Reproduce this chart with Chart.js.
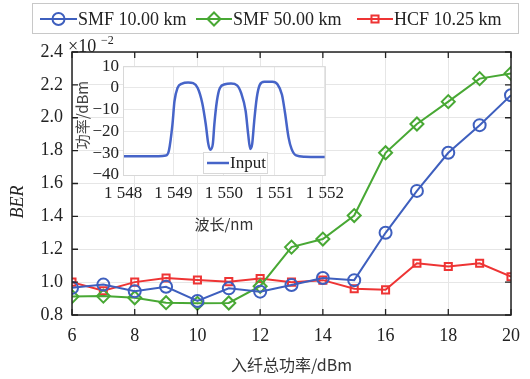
<!DOCTYPE html>
<html>
<head>
<meta charset="utf-8">
<script src="https://cdn.jsdelivr.net/npm/chart.js@4"></script>
<style>
  body { margin: 0; background: #fff; }
  #wrap { position: relative; width: 530px; height: 379px; }
  #main { position: absolute; left: 0; top: 0; }
  #inset { position: absolute; left: 72px; top: 52px; }
</style>
</head>
<body>
<div id="wrap">
  <canvas id="main" width="530" height="379"></canvas>
  <canvas id="inset" width="280" height="185"></canvas>
</div>
<script>
// main chart data (BER x 10^-2)
const power = [6, 7, 8, 9, 10, 11, 12, 13, 14, 15, 16, 17, 18, 19, 20];
const smf10 = [0.965, 0.985, 0.945, 0.972, 0.885, 0.962, 0.942, 0.982, 1.025, 1.012, 1.30, 1.555, 1.787, 1.955, 2.137];
const smf50 = [0.912, 0.915, 0.905, 0.875, 0.871, 0.873, 0.975, 1.213, 1.262, 1.405, 1.787, 1.962, 2.098, 2.238, 2.27];
const hcf = [1.0, 0.948, 1.0, 1.025, 1.013, 1.003, 1.022, 1.0, 1.012, 0.96, 0.953, 1.115, 1.095, 1.115, 1.033];
const yTicks = [0.8, 1.0, 1.2, 1.4, 1.6, 1.8, 2.0, 2.2, 2.4];
const xTicks = [6, 8, 10, 12, 14, 16, 18, 20];

// inset spectrum (wavelength nm, power dBm)
const wavelength = [1548.0, 1548.5, 1548.85, 1548.91, 1548.98, 1549.02, 1549.08, 1549.17, 1549.29, 1549.39, 1549.48, 1549.57, 1549.64, 1549.69, 1549.73, 1549.78, 1549.81, 1549.86, 1549.92, 1550.02, 1550.14, 1550.26, 1550.34, 1550.43, 1550.48, 1550.52, 1550.56, 1550.60, 1550.65, 1550.71, 1550.80, 1550.96, 1551.06, 1551.15, 1551.21, 1551.28, 1551.34, 1551.43, 1551.6, 1552.0];
const inputDbm = [-31.4, -31.4, -31.0, -28.7, -16.7, -6.1, 0.0, 2.0, 2.5, 2.2, 0.0, -6.9, -16.7, -25.7, -28.4, -25.7, -16.7, -6.1, 0.0, 1.7, 2.0, 1.2, -2.3, -10.6, -21.2, -28.0, -25.7, -15.2, -4.6, 1.4, 2.8, 2.8, 1.7, -3.1, -11.4, -22.7, -28.0, -31.0, -31.6, -31.7];
const insetXTicks = [1548, 1549, 1550, 1551, 1552];
const insetYTicks = [-40, -30, -20, -10, 0, 10];

const blue = 'rgb(62,95,190)';
const green = 'rgb(72,168,52)';
const red = 'rgb(238,52,52)';
const serif = '"Liberation Serif", "DejaVu Serif", serif';
const cjk = '"Noto Sans CJK SC", sans-serif';

function ds(label, data, color, style, r) {
    return {
        label: label,
        data: data.map((v, i) => ({ x: power[i], y: v })),
        borderColor: color,
        backgroundColor: 'rgba(0,0,0,0)',
        borderWidth: 2,
        pointStyle: style,
        pointRadius: r,
        pointBorderWidth: 2,
        pointBorderColor: color,
        pointBackgroundColor: 'rgba(0,0,0,0)',
        tension: 0
    };
}

// draw inward ticks on all 4 sides, box, legend and extra labels
const mainDecor = {
    id: 'mainDecor',
    afterDraw(chart) {
        const c = chart.ctx, a = chart.chartArea;
        const xs = chart.scales.x, ys = chart.scales.y;
        c.save();
        c.strokeStyle = '#222';
        c.lineWidth = 1.3;
        c.beginPath();
        xTicks.forEach(t => {
            const px = xs.getPixelForValue(t);
            c.moveTo(px, a.bottom); c.lineTo(px, a.bottom - 6);
            c.moveTo(px, a.top); c.lineTo(px, a.top + 6);
        });
        yTicks.forEach(t => {
            const py = ys.getPixelForValue(t);
            c.moveTo(a.left, py); c.lineTo(a.left + 6, py);
            c.moveTo(a.right, py); c.lineTo(a.right - 6, py);
        });
        c.stroke();
        c.lineWidth = 1.5;
        c.strokeRect(a.left, a.top, a.right - a.left, a.bottom - a.top);

        // exponent label
        c.fillStyle = '#222';
        c.font = '18px ' + serif;
        c.textBaseline = 'alphabetic';
        c.textAlign = 'left';
        c.fillText('\u00d710', 68, 52);
        c.font = '12px ' + serif;
        c.fillText('\u22122', 101, 44);

        // y title
        c.font = 'italic 18px ' + serif;
        c.translate(18, 202);
        c.rotate(-Math.PI / 2);
        c.textAlign = 'center';
        c.textBaseline = 'middle';
        c.fillText('BER', 0, 0);
        c.restore();

        // legend
        c.save();
        c.fillStyle = '#fff';
        c.fillRect(32, 3, 486, 30);
        c.strokeStyle = '#c8c8c8';
        c.lineWidth = 1;
        c.strokeRect(32.5, 3.5, 486, 30);
        const items = [
            { x0: 40, x1: 77, ds: chart.data.datasets[0] },
            { x0: 196, x1: 232, ds: chart.data.datasets[1] },
            { x0: 357, x1: 393, ds: chart.data.datasets[2] }
        ];
        items.forEach(it => {
            const y = 19;
            c.strokeStyle = it.ds.borderColor;
            c.lineWidth = 2;
            c.beginPath();
            c.moveTo(it.x0, y); c.lineTo(it.x1, y);
            c.stroke();
            c.fillStyle = 'rgba(0,0,0,0)';
            Chart.helpers.drawPoint(c, {
                pointStyle: it.ds.pointStyle, radius: it.ds.pointRadius, borderWidth: 2, rotation: 0
            }, (it.x0 + it.x1) / 2, y);
            c.fillStyle = '#222';
            c.font = '18px ' + serif;
            c.textAlign = 'left';
            c.textBaseline = 'middle';
            c.fillText(it.ds.label, it.x1 + 1, y + 1);
        });
        c.restore();
    }
};

new Chart(document.getElementById('main'), {
    type: 'line',
    data: {
        datasets: [
            ds('SMF 10.00 km', smf10, blue, 'circle', 6),
            ds('SMF 50.00 km', smf50, green, 'rectRot', 6.5),
            ds('HCF 10.25 km', hcf, red, 'rect', 5)
        ]
    },
    options: {
        responsive: false,
        animation: false,
        layout: { padding: { left: 0, right: 14, top: 52, bottom: 0 } },
        plugins: { legend: { display: false }, tooltip: { enabled: false } },
        scales: {
            x: {
                type: 'linear', min: 6, max: 20,
                afterFit: s => { s.height = 64; },
                afterBuildTicks: s => { s.ticks = xTicks.map(v => ({ value: v })); },
                grid: { color: '#e6e6e6', lineWidth: 1, drawTicks: false },
                border: { display: false },
                ticks: { color: '#222', font: { family: serif, size: 18 }, padding: 10, maxRotation: 0, autoSkip: false },
                title: { display: true, text: '入纤总功率/dBm', color: '#333', font: { family: cjk, size: 16 }, padding: { top: 0 } }
            },
            y: {
                type: 'linear', min: 0.8, max: 2.4,
                afterFit: s => { s.width = 72; },
                afterBuildTicks: s => { s.ticks = yTicks.map(v => ({ value: v })); },
                grid: { color: '#e6e6e6', lineWidth: 1, drawTicks: false },
                border: { display: false },
                ticks: { color: '#222', font: { family: serif, size: 18 }, padding: 9, autoSkip: false, callback: v => v.toFixed(1) }
            }
        }
    },
    plugins: [mainDecor]
});

// inset chart
const insetDecor = {
    id: 'insetDecor',
    beforeDraw(chart) {
        const c = chart.ctx, a = chart.chartArea;
        c.save();
        c.fillStyle = '#fff';
        c.fillRect(a.left, a.top, a.right - a.left, a.bottom - a.top);
        c.restore();
    },
    afterDraw(chart) {
        const c = chart.ctx, a = chart.chartArea;
        c.save();
        c.strokeStyle = '#d8d8d8';
        c.lineWidth = 1;
        c.strokeRect(a.left + 0.5, a.top + 0.5, a.right - a.left, a.bottom - a.top);
        // legend
        c.fillStyle = '#fff';
        c.fillRect(131, 100, 64, 21);
        c.strokeRect(131.5, 100.5, 64, 21);
        c.strokeStyle = 'rgb(70,100,200)';
        c.lineWidth = 2.5;
        c.beginPath();
        c.moveTo(135, 111); c.lineTo(157, 111);
        c.stroke();
        c.fillStyle = '#222';
        c.font = '17px ' + serif;
        c.textAlign = 'left';
        c.textBaseline = 'middle';
        c.fillText('Input', 158, 112);
        // y title
        c.font = '15px ' + cjk;
        c.fillStyle = '#444';
        c.translate(10, 63);
        c.rotate(-Math.PI / 2);
        c.textAlign = 'center';
        c.fillText('功率/dBm', 0, 0);
        c.restore();
    }
};

new Chart(document.getElementById('inset'), {
    type: 'line',
    data: {
        datasets: [{
            label: 'Input',
            data: wavelength.map((w, i) => ({ x: w, y: inputDbm[i] })),
            borderColor: 'rgb(70,100,200)',
            borderWidth: 2.5,
            pointRadius: 0,
            cubicInterpolationMode: 'monotone'
        }]
    },
    options: {
        responsive: false,
        animation: false,
        layout: { padding: { left: 0, right: 17, top: 12, bottom: 0 } },
        plugins: { legend: { display: false }, tooltip: { enabled: false } },
        scales: {
            x: {
                type: 'linear', min: 1548, max: 1552,
                afterFit: s => { s.height = 62; },
                afterBuildTicks: s => { s.ticks = insetXTicks.map(v => ({ value: v })); },
                grid: { color: '#e8e8e8', drawTicks: false },
                border: { display: false },
                ticks: {
                    color: '#222', font: { family: serif, size: 17 }, padding: 8, maxRotation: 0, autoSkip: false,
                    callback: v => String(v).replace(/^(\d)(\d{3})$/, '$1 $2')
                },
                title: { display: true, text: '波长/nm', color: '#333', font: { family: cjk, size: 15 }, padding: { top: 4 } }
            },
            y: {
                type: 'linear', min: -40, max: 10,
                afterFit: s => { s.width = 51; },
                afterBuildTicks: s => { s.ticks = insetYTicks.map(v => ({ value: v })); },
                grid: { color: '#e8e8e8', drawTicks: false },
                border: { display: false },
                ticks: { color: '#222', font: { family: serif, size: 17 }, padding: 4, autoSkip: false, callback: v => v < 0 ? '\u2212' + Math.abs(v) : String(v) }
            }
        }
    },
    plugins: [insetDecor]
});
</script>
</body>
</html>
